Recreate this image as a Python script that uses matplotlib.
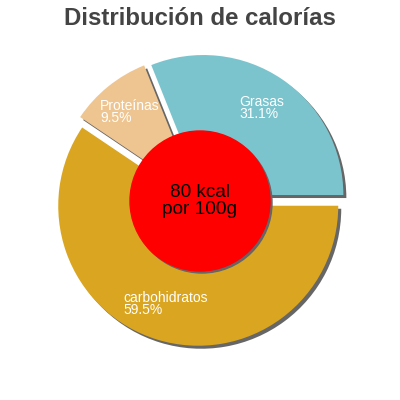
import matplotlib
matplotlib.use("Agg")
import matplotlib.pyplot as plt
from matplotlib.patches import Circle

plt.rcParams['font.family'] = ['Liberation Sans', 'DejaVu Sans']

# ------------------ Data ------------------
categories = ["Grasas", "Proteínas", "carbohidratos"]
percentages = [31.1, 9.5, 59.5]
colors = ["#7cc4cd", "#eec591", "#daa520"]
center_text = "80 kcal\npor 100g"
title = "Distribución de calorías"

# label anchor points (pixel coords, from top-left)
label_pos = [(239, 108), (100, 112), (123, 304)]

# ------------------ Figure (axes in pixel units) ------------------
fig = plt.figure(figsize=(4, 4), dpi=100)
ax = fig.add_axes([0, 0, 1, 1])

cx, cy = 200, 200
radius = 140
explode = [6, 6, 6]
shadow = 3

# shadows first, then the coloured slices
ax.pie(percentages, colors=["#666666"] * 3, startangle=0, counterclock=True,
       explode=explode, radius=radius, center=(cx + shadow, cy - shadow),
       frame=True)
ax.pie(percentages, colors=colors, startangle=0, counterclock=True,
       explode=explode, radius=radius, center=(cx, cy), frame=True)
ax.set_xlim(0, 400)
ax.set_ylim(0, 400)
ax.set_aspect("equal")
ax.axis("off")

# centre disc
ax.add_patch(Circle((cx + 2, cy - 3), 70, color="#666666", zorder=5))
ax.add_patch(Circle((cx, cy - 1), 70, color="#ff0000", zorder=6))
ax.text(cx, cy - 1, center_text, ha="center", va="center", fontsize=13.7,
        color="black", linespacing=0.95, zorder=7)

# slice labels
for name, pct, (lx, ly) in zip(categories, percentages, label_pos):
    ax.text(lx, 400 - ly, f"{name}\n{pct}%", ha="left", va="center",
            fontsize=10, color="white", linespacing=0.9, zorder=4)

# title
ax.text(200, 375, title, ha="center", va="baseline", fontsize=17.3,
        fontweight="bold", color="#444444")

fig.savefig("out.png", dpi=100)
